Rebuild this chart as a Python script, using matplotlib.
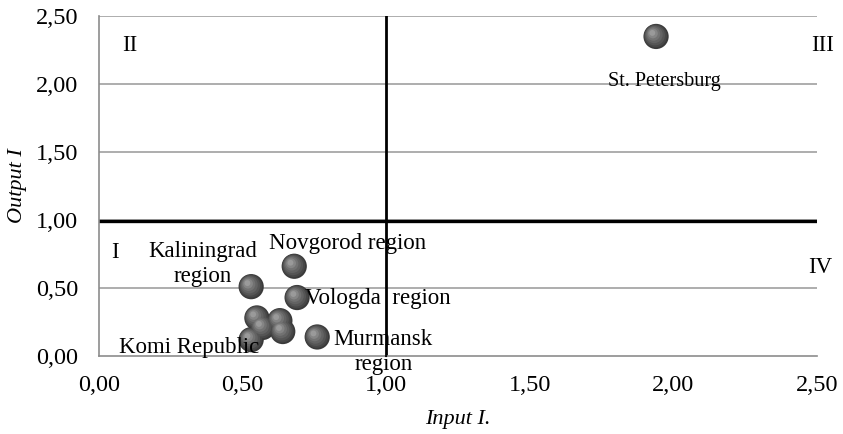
import matplotlib.pyplot as plt
import numpy as np

plt.rcParams["font.family"] = ["Liberation Serif", "DejaVu Serif"]

# input / output indices by region
input_idx = [1.94, 0.68, 0.53, 0.69, 0.55, 0.63, 0.64, 0.57, 0.53, 0.76]
output_idx = [2.35, 0.66, 0.51, 0.43, 0.28, 0.26, 0.18, 0.21, 0.12, 0.14]

xticks = [0.0, 0.5, 1.0, 1.5, 2.0, 2.5]
yticks = [0.0, 0.5, 1.0, 1.5, 2.0, 2.5]


def fmt(v):
    return ("%.2f" % v).replace(".", ",")


fig = plt.figure(figsize=(8.43, 4.34), dpi=100)
ax = fig.add_axes([0.1174, 0.1797, 0.8516, 0.7833])
ax.set_xlim(0, 2.5)
ax.set_ylim(0, 2.5)

for y in yticks[1:]:
    ax.axhline(y, color="#a0a0a0", lw=1.2, zorder=1)

ax.axvline(1.0, color="black", lw=2, zorder=2)
ax.axhline(0.99, color="black", lw=2.4, zorder=2)

# fake sphere shading with stacked circles
x = np.array(input_idx)
y = np.array(output_idx)
shades = ["#3a3a3a", "#474747", "#555555", "#636363", "#727272", "#858585", "#9a9a9a"]
sizes = [330, 270, 210, 150, 95, 50, 18]
offs = [0, 0.004, 0.008, 0.013, 0.018, 0.022, 0.026]
for c, s, o in zip(shades, sizes, offs):
    ax.scatter(x - o * 0.5, y + o, s=s, color=c, edgecolors="none", zorder=5,
               clip_on=False)

ax.set_xticks(xticks)
ax.set_yticks(yticks)
ax.set_xticklabels([fmt(v) for v in xticks])
ax.set_yticklabels([fmt(v) for v in yticks])
ax.tick_params(length=0, labelsize=17.5)
ax.tick_params(axis="y", pad=15)
ax.tick_params(axis="x", pad=14)

for s in ["top", "right"]:
    ax.spines[s].set_visible(False)
for s in ["left", "bottom"]:
    ax.spines[s].set_color("#8c8c8c")
    ax.spines[s].set_linewidth(1.2)

ax.set_xlabel("Input I.", fontsize=16, style="italic", labelpad=10)
ax.set_ylabel("Output I", fontsize=16, style="italic", labelpad=6)

fs = 16.5
ax.text(0.108, 2.28, "II", fontsize=fs, ha="center", va="center")
ax.text(2.52, 2.28, "III", fontsize=fs, ha="center", va="center",
        clip_on=False)
ax.text(0.056, 0.76, "I", fontsize=fs, ha="center", va="center")
ax.text(2.51, 0.65, "IV", fontsize=fs, ha="center", va="center",
        clip_on=False)

ax.text(1.97, 2.02, "St. Petersburg", fontsize=14.5, ha="center",
        va="center", zorder=6)
ax.text(0.864, 0.83, "Novgorod region", fontsize=fs, ha="center",
        va="center", zorder=6)
ax.text(0.362, 0.676, "Kaliningrad\nregion", fontsize=fs, ha="center",
        va="center", linespacing=1.2, zorder=6)
ax.text(0.717, 0.42, "Vologda  region", fontsize=fs, ha="left", va="center",
        zorder=6)
ax.text(0.99, 0.03, "Murmansk\nregion", fontsize=fs, ha="center",
        va="center", linespacing=1.2, zorder=6, clip_on=False)
ax.text(0.313, 0.06, "Komi Republic", fontsize=fs, ha="center", va="center",
        zorder=6)

fig.savefig("out.png", dpi=100)
